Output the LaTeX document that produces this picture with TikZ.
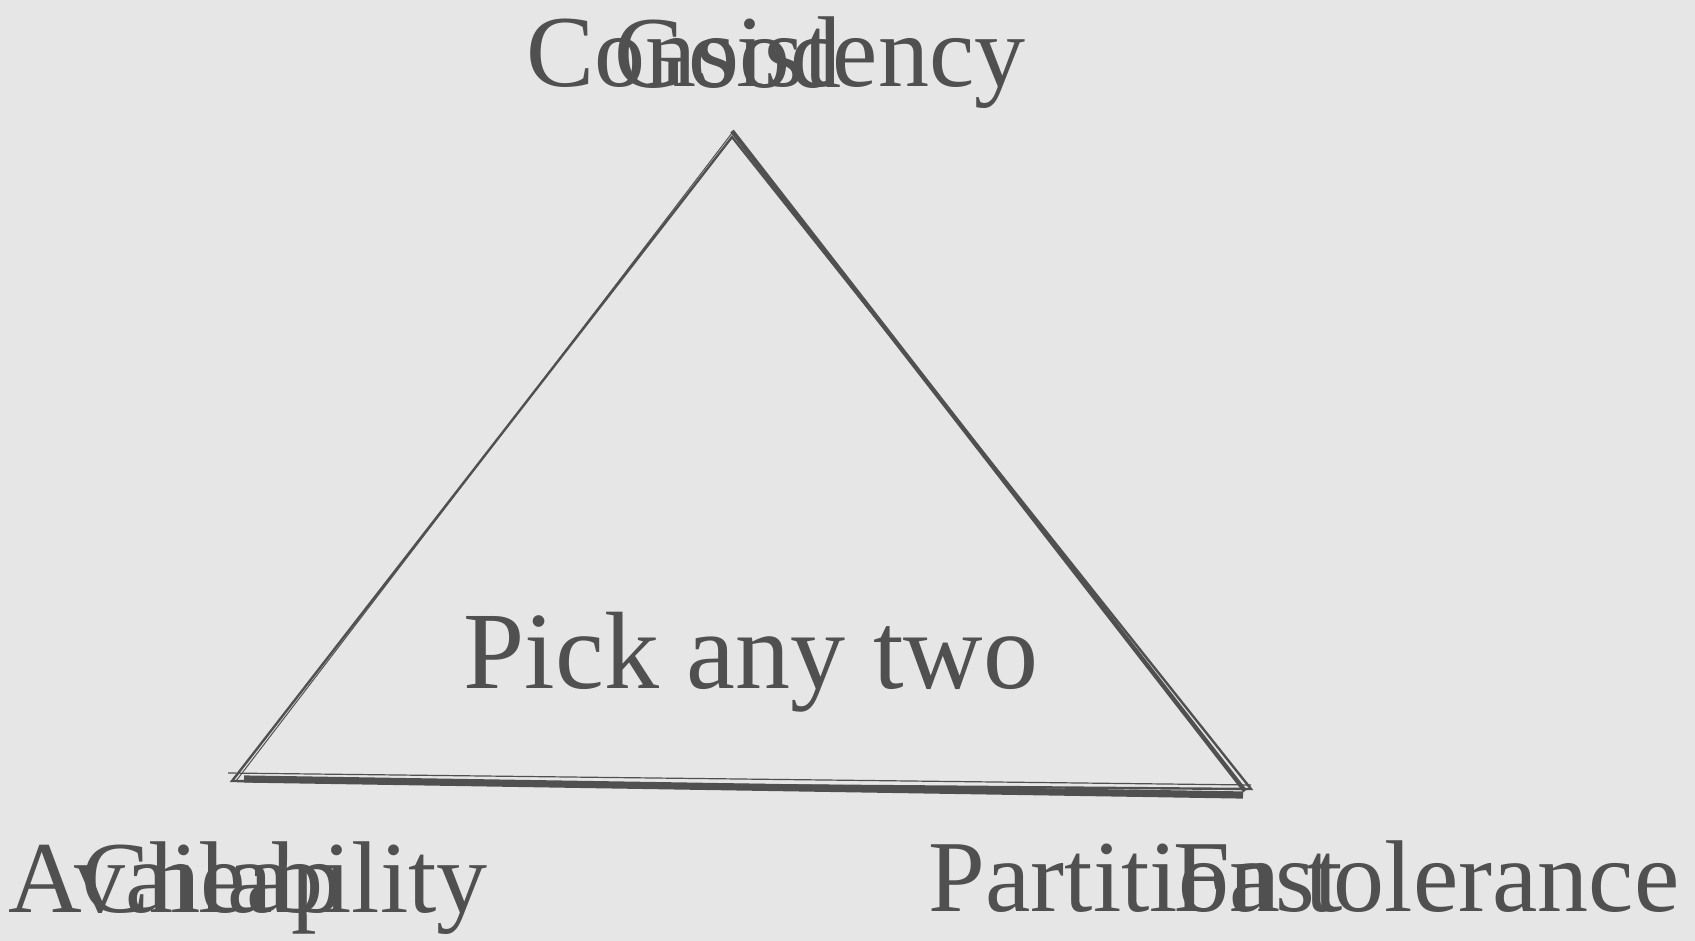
\documentclass[tikz,border=0pt]{standalone}
\usepackage{fontspec}
\setmainfont{Liberation Serif}
\definecolor{PaperGray}{HTML}{E6E6E6}
\definecolor{InkGray}{HTML}{505050}

\begin{document}
\begin{tikzpicture}[x=0.5pt, y=-0.5pt, every node/.style={font=\fontsize{51}{56}\selectfont, text=InkGray, inner sep=0pt, anchor=base}]
  \tikzstyle{sketch}=[draw=InkGray, line cap=butt, line join=miter]
  \fill[PaperGray] (0,0) rectangle (1695,941);
  \useasboundingbox (0,0) rectangle (1695,941);
  % corners of the triangle
  \coordinate (apex) at (732,137);
  \coordinate (left) at (232,781);
  \coordinate (right) at (1251,789);
  \draw[sketch, line width=1.2pt] (left) -- (apex) -- (right) -- cycle;
  \draw[sketch, line width=0.5pt] ([xshift=2]left) -- ([yshift=2]apex);
  \draw[sketch, line width=2.2pt] ([yshift=3]apex) -- ([xshift=-3,yshift=-1]right);
  \draw[sketch, line width=3.6pt] ([xshift=6,yshift=1]left) -- ([xshift=-4,yshift=-3]right);
  \draw[sketch, line width=0.6pt] ([xshift=-2,yshift=4]left) -- ([yshift=2]right);
  % labels
  \node (consistency) at (776,87) {Consistency};
  \node (good) at (728,88) {Good};
  \node[font=\fontsize{55}{60}\selectfont] (pick) at (751,688) {Pick any two};
  \node (availability) at (248,912) {Availability};
  \node (cheap) at (212,912) {Cheap};
  \node (partition) at (1304,911) {Partition tolerance};
  \node (fast) at (1258,911) {Fast};
\end{tikzpicture}
\end{document}
